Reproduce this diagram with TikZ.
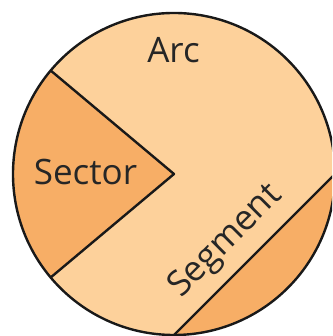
\documentclass[tikz,border=0pt]{standalone}
\usepackage{fontspec}
\setmainfont{Open Sans}
\definecolor{lightfill}{HTML}{FDD19B}
\definecolor{darkfill}{HTML}{F7AE66}
\begin{document}
\begin{tikzpicture}[x=1pt,y=1pt,
  outline/.style={line width=2.4pt, line join=round, draw=black!90},
  lbl/.style={font=\fontsize{35}{40}\selectfont, text=black!85, inner sep=0pt}]
\useasboundingbox (0,0) rectangle (332,336);
\clip (0,0) rectangle (332,336);
\coordinate (c) at (174,162);
\fill[lightfill] (c) circle[radius=161];
\begin{scope}[shift={(174,162)}]
  \fill[darkfill] (0,0) -- (140:161) arc[start angle=140,end angle=220,radius=161] -- cycle;
  \fill[darkfill] (0:161) arc[start angle=0,end angle=-90,radius=161] -- cycle;
  \coordinate (s1) at (140:161);
  \coordinate (s2) at (220:161);
  \coordinate (g1) at (0:161);
  \coordinate (g2) at (-90:161);
\end{scope}
\draw[outline] (s1) -- (c) -- (s2);
\draw[outline] (g1) -- (g2);
\draw[outline] (c) circle[radius=161];
\node[lbl, anchor=base] (arc) at (173.5,273) {Arc};
\node[lbl, anchor=base] (sector) at (85.5,151) {Sector};
\node[lbl, rotate=45] (segment) at (226,94) {Segment};
\end{tikzpicture}
\end{document}
